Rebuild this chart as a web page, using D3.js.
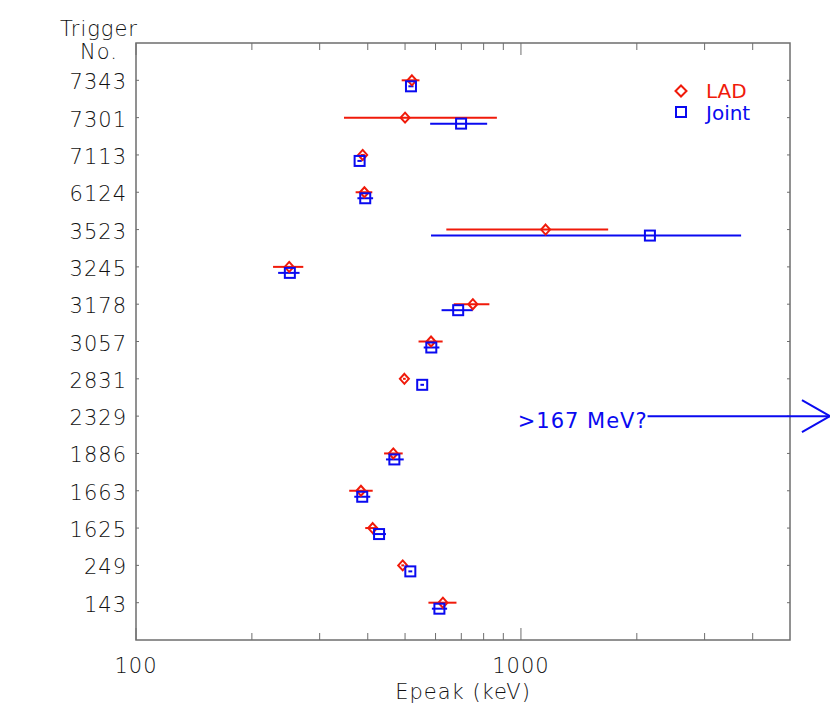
<!DOCTYPE html>
<html>
<head>
<meta charset="utf-8">
<script src="https://cdn.jsdelivr.net/npm/d3@7"></script>
<style>
  body { margin: 0; background: #fff; }
  text { font-family: "DejaVu Sans", sans-serif; }
  .thin { font-family: "DejaVu Sans ExtraLight", "DejaVu Sans", sans-serif; font-weight: 200; letter-spacing: 1px; }
</style>
</head>
<body>
<div id="chart"></div>
<script>
// trigger numbers, top to bottom
var triggers = ["7343", "7301", "7113", "6124", "3523", "3245", "3178", "3057", "2831", "2329", "1886", "1663", "1625", "249", "143"];

// LAD fit: Epeak and its range (keV)
var ladE  = [521, 500, 388, 392, 1159, 250, 750, 584, 498, null, 466, 384, 412, 493, 627];
var ladLo = [490, 347, 383, 372, 640, 227, 669, 542, 494, null, 441, 358, 394, 489, 575];
var ladHi = [545, 866, 393, 411, 1685, 272, 828, 626, 502, null, 493, 412, 424, 497, 680];

// joint fit
var jointE  = [518, 699, 381, 394, 2163, 251, 687, 585, 554, null, 469, 387, 428, 516, 614];
var jointLo = [510, 581, 376, 376, 584, 234, 622, 559, 548, null, 446, 369, 412, 510, 587];
var jointHi = [526, 817, 386, 413, 3732, 266, 750, 614, 560, null, 496, 406, 446, 522, 643];

// 2329: lower limit only
var limitRow = "2329";
var limitFrom = 2133;
var limitTo = 6350;
var limitText = ">167 MeV?";

var xTicks = [100, 1000];

var svgWidth = 830;
var svgHeight = 727;
var margin = { top: 43, right: 40, bottom: 87, left: 136 };
var width = svgWidth - margin.left - margin.right;
var height = svgHeight - margin.top - margin.bottom;

var red = "#f01a0a";
var blue = "#0a0af0";
var axisColor = "#6e6e6e";

var svg = d3.select("#chart")
    .append("svg")
    .attr("width", svgWidth)
    .attr("height", svgHeight);

var chartGroup = svg.append("g")
    .attr("transform", `translate(${margin.left}, ${margin.top})`);

var x = d3.scaleLog().domain([100, 5000]).range([0, width]);
var y = d3.scaleLinear().domain([0, triggers.length + 1]).range([0, height]);

// minor ticks for the log axis
var minor = [];
[100, 1000].forEach(function (d) {
    for (var k = 2; k <= 9; k++) {
        if (d * k < 5000) minor.push(d * k);
    }
});

// frame
chartGroup.append("rect")
    .attr("width", width)
    .attr("height", height)
    .attr("fill", "none")
    .attr("stroke", axisColor)
    .attr("stroke-width", 1.5);

// bottom and top ticks
[height, 0].forEach(function (y0) {
    var dir = y0 === 0 ? 1 : -1;
    chartGroup.selectAll(null)
        .data(xTicks)
        .enter().append("line")
        .attr("x1", d => x(d)).attr("x2", d => x(d))
        .attr("y1", y0).attr("y2", y0 + dir * 12)
        .attr("stroke", axisColor);
    chartGroup.selectAll(null)
        .data(minor)
        .enter().append("line")
        .attr("x1", d => x(d)).attr("x2", d => x(d))
        .attr("y1", y0).attr("y2", y0 + dir * 7)
        .attr("stroke", axisColor);
});

// left and right row ticks
[0, width].forEach(function (x0) {
    var dir = x0 === 0 ? 1 : -1;
    chartGroup.selectAll(null)
        .data(triggers)
        .enter().append("line")
        .attr("x1", x0).attr("x2", x0 + dir * 3)
        .attr("y1", (d, i) => y(i + 1)).attr("y2", (d, i) => y(i + 1))
        .attr("stroke", axisColor);
});

// x tick labels
chartGroup.selectAll(null)
    .data(xTicks)
    .enter().append("text")
    .attr("class", "thin")
    .attr("x", d => x(d))
    .attr("y", height + 33)
    .attr("text-anchor", "middle")
    .attr("font-size", 21)
    .attr("fill", "#111")
    .text(d => d);

chartGroup.append("text")
    .attr("class", "thin")
    .attr("x", width / 2)
    .attr("y", height + 59)
    .attr("text-anchor", "middle")
    .attr("font-size", 21)
    .attr("fill", "#111")
    .text("Epeak (keV)");

// y labels
chartGroup.selectAll(null)
    .data(triggers)
    .enter().append("text")
    .attr("class", "thin")
    .attr("x", -9)
    .attr("y", (d, i) => y(i + 1) + 9)
    .attr("text-anchor", "end")
    .attr("font-size", 21)
    .attr("fill", "#111")
    .text(d => d);

svg.append("text")
    .attr("class", "thin")
    .attr("x", 99).attr("y", 36)
    .attr("text-anchor", "middle")
    .attr("font-size", 21)
    .attr("fill", "#111")
    .text("Trigger");
svg.append("text")
    .attr("class", "thin")
    .attr("x", 99).attr("y", 59)
    .attr("text-anchor", "middle")
    .attr("font-size", 21)
    .attr("fill", "#111")
    .text("No.");

// build point tables
var ladPts = [];
var jointPts = [];
triggers.forEach(function (t, i) {
    if (ladE[i] != null) ladPts.push({ row: i + 1, e: ladE[i], lo: ladLo[i], hi: ladHi[i] });
    if (jointE[i] != null) jointPts.push({ row: i + 1, e: jointE[i], lo: jointLo[i], hi: jointHi[i] });
});
var ladOff = 0;
var jointOff = 6;

// error bars
chartGroup.selectAll(".errLad")
    .data(ladPts)
    .enter().append("line")
    .attr("x1", d => x(d.lo)).attr("x2", d => x(d.hi))
    .attr("y1", d => y(d.row) + ladOff).attr("y2", d => y(d.row) + ladOff)
    .attr("stroke", red)
    .attr("stroke-width", 2);

chartGroup.selectAll(".errJoint")
    .data(jointPts)
    .enter().append("line")
    .attr("x1", d => x(d.lo)).attr("x2", d => x(d.hi))
    .attr("y1", d => y(d.row) + jointOff).attr("y2", d => y(d.row) + jointOff)
    .attr("stroke", blue)
    .attr("stroke-width", 2);

// markers
var diamond = "M0,-5L4.5,0L0,5L-4.5,0Z";
chartGroup.selectAll(".lad")
    .data(ladPts)
    .enter().append("path")
    .attr("d", diamond)
    .attr("transform", d => `translate(${x(d.e)}, ${y(d.row) + ladOff})`)
    .attr("fill", "none")
    .attr("stroke", red)
    .attr("stroke-width", 2);

chartGroup.selectAll(".joint")
    .data(jointPts)
    .enter().append("rect")
    .attr("x", d => x(d.e) - 5)
    .attr("y", d => y(d.row) + jointOff - 5)
    .attr("width", 10).attr("height", 10)
    .attr("fill", "none")
    .attr("stroke", blue)
    .attr("stroke-width", 2);

// lower limit arrow for 2329
var limitY = y(triggers.indexOf(limitRow) + 1);
chartGroup.append("line")
    .attr("x1", x(limitFrom)).attr("x2", x(limitTo))
    .attr("y1", limitY).attr("y2", limitY)
    .attr("stroke", blue)
    .attr("stroke-width", 2);
chartGroup.append("path")
    .attr("d", `M${x(limitTo) - 28},${limitY - 16}L${x(limitTo)},${limitY}L${x(limitTo) - 28},${limitY + 16}`)
    .attr("fill", "none")
    .attr("stroke", blue)
    .attr("stroke-width", 2);
chartGroup.append("text")
    .attr("x", x(limitFrom))
    .attr("y", limitY + 12)
    .attr("text-anchor", "end")
    .attr("font-size", 21)
    .attr("letter-spacing", 1)
    .attr("fill", blue)
    .text(limitText);

// legend
var legend = chartGroup.append("g")
    .attr("transform", `translate(${width - 109}, 48)`);
legend.append("path")
    .attr("d", "M0,-5.5L5.5,0L0,5.5L-5.5,0Z")
    .attr("fill", "none")
    .attr("stroke", red)
    .attr("stroke-width", 2);
legend.append("text")
    .attr("x", 25).attr("y", 7)
    .attr("font-size", 20)
    .attr("fill", red)
    .text("LAD");
legend.append("rect")
    .attr("x", -5).attr("y", 16)
    .attr("width", 10).attr("height", 10)
    .attr("fill", "none")
    .attr("stroke", blue)
    .attr("stroke-width", 2);
legend.append("text")
    .attr("x", 25).attr("y", 29)
    .attr("font-size", 20)
    .attr("fill", blue)
    .text("Joint");
</script>
</body>
</html>
